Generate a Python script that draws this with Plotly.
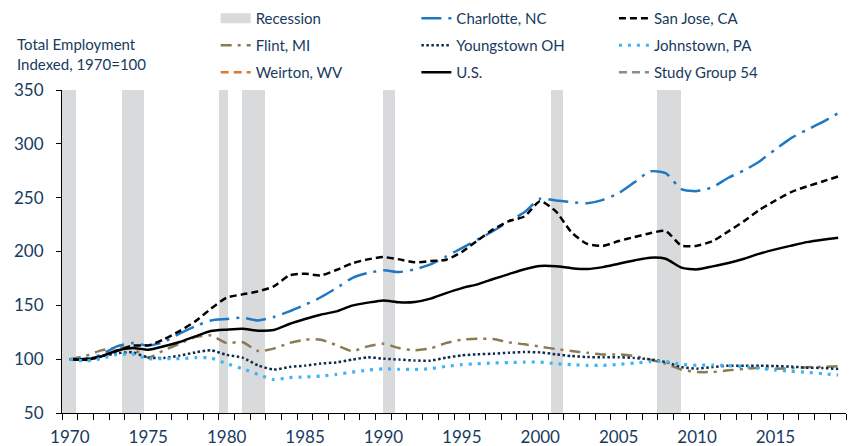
import plotly.graph_objects as go

years = list(range(1970, 2020))

us = [100, 99.5, 102.5, 108, 110.3, 108.8, 112, 116, 121.2, 126.1,
      127.4, 128.3, 126.5, 127.1, 132.7, 137.3, 141.3, 144.4, 149.7, 152.5,
      154.6, 152.8, 153.1, 156.2, 161.4, 166, 169.5, 174.4, 179, 183.5,
      186.5, 186.2, 184.5, 183.7, 185.5, 188.7, 191.7, 194.3, 193.3, 185,
      183.4, 186.2, 189.3, 193.3, 198, 202, 205.4, 208.7, 211, 212.8]
san_jose = [100, 100.2, 102.6, 107.6, 112.6, 112.8, 118.4, 126.1, 135.1, 146.9,
            157.1, 160.2, 163, 167.6, 177.8, 179.4, 177.8, 182.8, 189, 192.7,
            194.8, 192.7, 189.9, 191.1, 192.4, 199.5, 210.3, 220.5, 228.2, 232.6,
            246.8, 237.2, 217.7, 207, 205.2, 209.7, 213.4, 217, 219, 205.6,
            205.4, 209.7, 218.7, 228.2, 238.8, 247.4, 255.2, 260.4, 265, 269.7]
charlotte = [100, 100.5, 104.2, 111.9, 115, 112.6, 115.9, 123.7, 130.5, 136,
             137.3, 138.5, 136, 139.1, 144.4, 150.5, 157.5, 166, 175.3, 180,
             182.5, 180.9, 183.4, 188, 195.4, 203.2, 211, 219, 228, 236.6,
             249, 247.4, 245.9, 244.9, 248, 254.2, 264.2, 274.4, 272.8, 258,
             256.1, 259.8, 268.5, 275.3, 283.9, 294.8, 305.3, 313, 320.1, 328.5]
flint = [100, 103, 108.2, 110.7, 109.8, 101.5, 108.2, 114.4, 120.5, 122,
         115, 115.9, 107.6, 109.8, 115, 118.1, 118.1, 113, 107.5, 111.9,
         114.4, 110.3, 108.2, 110, 115, 118.1, 119, 118.7, 115.6, 113.8,
         111.6, 109.4, 107.6, 105.9, 104.3, 104.4, 102.9, 99.6, 95.8, 90.3,
         88.1, 88.1, 89.6, 90.9, 92.1, 91.2, 91.5, 92.5, 92.8, 93.4]
youngstown = [100, 99.3, 102.6, 105.4, 106.3, 101.4, 101.1, 103.3, 106.3, 108.2,
              104, 101.4, 94.3, 90.3, 92.7, 94, 95.9, 97, 99.5, 101.7,
              100.5, 99.6, 98.8, 98.6, 101.4, 103.5, 104.5, 105.1, 106, 106.6,
              106.3, 104.5, 102.9, 102, 101.7, 101.8, 101.1, 99.8, 97.3, 92.7,
              91.2, 92.7, 93.9, 93.9, 93.9, 93.6, 93.1, 92.1, 91.8, 90.9]
johnstown = [100, 98.4, 100.5, 104.3, 104.6, 100.5, 100.5, 100.5, 101.4, 101.1,
             95.9, 91.2, 85.9, 81, 82.9, 83.4, 84.3, 85.9, 88, 89.8,
             91, 90.6, 90.4, 91.2, 93.3, 94.9, 95.8, 96.4, 96.8, 97.3,
             97.3, 95.8, 94.9, 94.3, 94.2, 95.2, 96.4, 97.7, 97.7, 95.2,
             94.3, 94.6, 94, 93.1, 91.5, 89.9, 88.7, 87.8, 86.6, 85.3]
# not visible in the chart, legend only
weirton = []
study_group = []

recession_start = [1970.0, 1973.83, 1980.0, 1981.5, 1990.5, 2001.2, 2007.92]
recession_end = [1970.92, 1975.25, 1980.6, 1982.92, 1991.25, 2001.92, 2009.5]

label_years = [1970, 1975, 1980, 1985, 1990, 1995, 2000, 2005, 2010, 2015]

TEXT = '#173b5e'
FONT = 'Lato'
REC_GREY = '#d9dadc'

# data points sit in the middle of each year
x_mid = [y + 0.5 for y in years]

fig = go.Figure()

fig.add_trace(go.Bar(
    x=[(s + e) / 2 for s, e in zip(recession_start, recession_end)],
    y=[300] * len(recession_start),
    base=50,
    width=[e - s for s, e in zip(recession_start, recession_end)],
    marker=dict(color=REC_GREY, line=dict(width=0)),
    name='Recession', showlegend=False,
    hoverinfo='skip',
))
# legend entry for the shading: wide grey box like the original key
fig.add_trace(go.Scatter(
    x=[None], y=[None], mode='lines', name='Recession',
    line=dict(color=REC_GREY, width=10),
    legend='legend', legendgroup='rec',
))

series = [
    ('Flint, MI', flint, '#8b7a54', '11px,6px,3px,6px', 2.5, 'legend'),
    ('Weirton, WV', weirton, '#e0782f', '8px,5px', 2.5, 'legend'),
    ('Charlotte, NC', charlotte, '#1f78c4', '20px,7px,3px,7px', 2.5, 'legend2'),
    ('Youngstown OH', youngstown, '#0c2c4e', '2.5px,2.5px', 2.5, 'legend2'),
    ('U.S.', us, '#000000', 'solid', 2.5, 'legend2'),
    ('San Jose, CA', san_jose, '#000000', '7px,4px', 2.5, 'legend3'),
    ('Johnstown, PA', johnstown, '#3db5f5', '3px,6px', 3.2, 'legend3'),
    ('Study Group 54', study_group, '#8c8c8c', '8px,5px', 2.5, 'legend3'),
]
for name, vals, color, dash, width, leg in series:
    fig.add_trace(go.Scatter(
        x=x_mid[:len(vals)] if vals else [None],
        y=vals if vals else [None],
        mode='lines',
        name=name,
        line=dict(color=color, dash=dash, width=width, shape='spline', smoothing=0.6),
        legend=leg, legendgroup=name,
    ))

legend_common = dict(
    orientation='v',
    yref='container',
    yanchor='top',
    y=0.9955,
    xanchor='left',
    font=dict(family=FONT, size=15, color=TEXT),
    bgcolor='rgba(0,0,0,0)',
    tracegroupgap=4.5,
    traceorder='grouped',
    itemwidth=30,
)

fig.update_layout(
    width=856,
    height=446,
    margin=dict(l=62, r=10, t=90, b=33),
    plot_bgcolor='white',
    paper_bgcolor='white',
    font=dict(family=FONT, size=16, color=TEXT),
    bargap=0,
    showlegend=True,
    legend=dict(legend_common, x=0.196),
    legend2=dict(legend_common, x=0.452),
    legend3=dict(legend_common, x=0.704),
    xaxis=dict(
        range=[1970, 2020],
        tickmode='array',
        tickvals=[y + 0.5 for y in label_years],
        ticktext=[str(y) for y in label_years],
        ticks='outside',
        ticklen=6,
        tickcolor='rgba(0,0,0,0)',
        minor=dict(ticks='outside', ticklen=6, tickcolor='black', tickmode='linear',
                   tick0=1970, dtick=1, showgrid=False),
        showline=True,
        linecolor='black',
        linewidth=1,
        showgrid=False,
        zeroline=False,
        automargin=False,
        ticklabelstandoff=3,
        tickfont=dict(family=FONT, size=17, color=TEXT),
    ),
    yaxis=dict(
        range=[50, 350],
        tick0=50,
        dtick=50,
        ticks='outside',
        ticklen=5,
        tickcolor='black',
        showline=True,
        linecolor='black',
        linewidth=1,
        showgrid=False,
        zeroline=False,
        automargin=False,
        ticklabelstandoff=9,
        tickfont=dict(family=FONT, size=17, color=TEXT),
    ),
    annotations=[dict(
        text='Total Employment<br>Indexed, 1970=100',
        xref='paper', yref='paper',
        x=-0.0605, y=1.11,
        xanchor='left', yanchor='middle', align='left',
        showarrow=False,
        font=dict(family=FONT, size=15, color=TEXT),
    )],
)

fig.write_html("out.html", config={'displayModeBar': False},
               post_script="document.body.style.margin='0';")
